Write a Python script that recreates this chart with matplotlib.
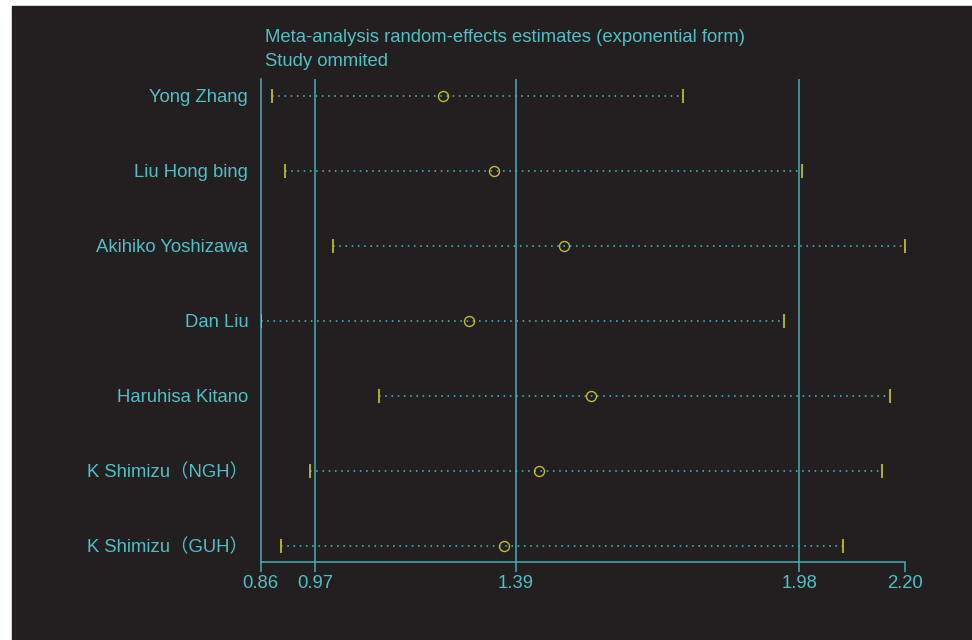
import numpy as np
import matplotlib.pyplot as plt
from matplotlib.patches import Rectangle

# ── Data ───────────────────────────────────────────────────────────────────────
studies = ["Yong Zhang", "Liu Hong bing", "Akihiko Yoshizawa", "Dan Liu",
           "Haruhisa Kitano", "K Shimizu（NGH）", "K Shimizu（GUH）"]
estimate = [1.240, 1.345, 1.491, 1.293, 1.546, 1.439, 1.366]
lower    = [0.884, 0.911, 1.011, 0.860, 1.106, 0.962, 0.902]
upper    = [1.738, 1.986, 2.200, 1.948, 2.168, 2.151, 2.071]
ref_lines   = [0.973, 1.39, 1.98]          # pooled CI low, estimate, CI high
tick_values = [0.86, 0.973, 1.39, 1.98, 2.20]
title_lines = ["Meta-analysis random-effects estimates (exponential form)",
               "Study ommited"]
# ───────────────────────────────────────────────────────────────────────────────

BG     = "#231f20"
CYAN   = "#4fc0c6"
TEAL   = "#42afb4"
DOTS   = "#3cbcc4"
YELLOW = "#c2bb2c"
FONT   = ["Liberation Sans", "Noto Sans CJK SC", "DejaVu Sans"]
FS     = 13.3

plt.rcParams["font.family"] = FONT

W, H = 972, 640
fig = plt.figure(figsize=(W / 100, H / 100), dpi=100, facecolor="white")
fig.patches.append(Rectangle((12 / W, 0), 1 - 12 / W, (H - 6) / H,
                             transform=fig.transFigure, color=BG, zorder=-10))

x0, x1, ytop, ybot = 260.7, 905.3, 79, 562
ax = fig.add_axes([x0 / W, (H - ybot) / H, (x1 - x0) / W, (ybot - ytop) / H])
ax.set_facecolor("none")

n = len(studies)
ypos = np.arange(n)

for xv in ref_lines:
    ax.axvline(xv, color=TEAL, lw=1.1, zorder=1)

for y, lo, hi, est in zip(ypos, lower, upper, estimate):
    ax.plot([lo, hi], [y, y], color=DOTS, lw=1.15, ls=(0, (1, 2.9)), zorder=2)
    ax.plot([lo, hi], [y, y], ls="none", marker="|", ms=10.6, mew=1.3,
            color=YELLOW, zorder=3)
    ax.plot(est, y, ls="none", marker="o", ms=7.2, mfc="none", mec=YELLOW,
            mew=1.0, zorder=4)

ax.set_xlim(0.86, 2.20)
ax.set_ylim(n - 1 + 16.3 / 75, -16.7 / 75)

for s in ["top", "right"]:
    ax.spines[s].set_visible(False)
for s in ["left", "bottom"]:
    ax.spines[s].set_color(TEAL)
    ax.spines[s].set_linewidth(1.1)

ax.set_xticks(tick_values)
ax.set_xticklabels([f"{v:.2f}" for v in tick_values])
ax.tick_params(axis="x", direction="out", length=7.2, width=1.1, color=TEAL,
               labelcolor=CYAN, labelsize=FS, pad=2)

ax.set_yticks(ypos)
ax.set_yticklabels(studies)
ax.tick_params(axis="y", length=0, labelcolor=CYAN, labelsize=FS, pad=9)

for i, line in enumerate(title_lines):
    fig.text(265 / W, 1 - (37 + 24 * i) / H, line, color=CYAN, fontsize=FS,
             ha="left", va="center")

fig.savefig("out.png", dpi=100, facecolor=fig.get_facecolor())
